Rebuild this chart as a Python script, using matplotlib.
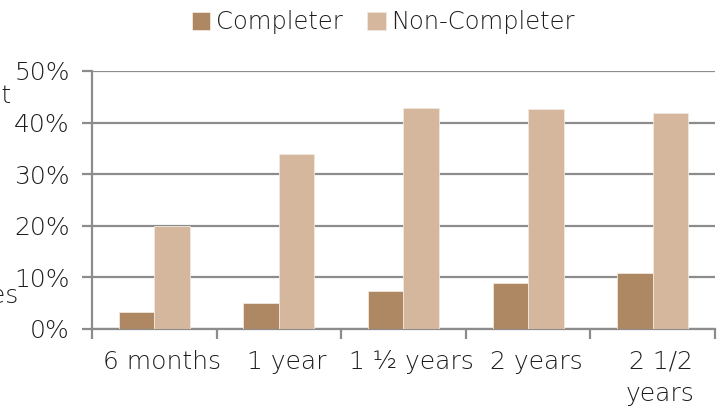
import numpy as np
import matplotlib.pyplot as plt
import matplotlib.transforms as mtransforms
from matplotlib.ticker import PercentFormatter, FixedLocator

# dados
periodos = ['6 months', '1 year', '1 ½ years', '2 years', '2 1/2\nyears']
completer = [3.3, 5.1, 7.4, 8.8, 10.8]
non_completer = [20.0, 34.0, 42.8, 42.6, 41.9]

cor_completer = '#AE8862'
cor_non = '#D4B79D'
cinza = '#8C8C8C'
cor_texto = '#1E1E1E'

plt.rcParams['font.family'] = ['DejaVu Sans']
plt.rcParams['font.weight'] = 'light'
tam = 18

fig = plt.figure(figsize=(7.25, 4.08), dpi=100)
ax = fig.add_axes([0.127, 0.194, 0.859, 0.632])

x = np.arange(len(periodos))
largura = 0.285
ax.bar(x - largura / 2, completer, largura, color=cor_completer, label='Completer',
       edgecolor='#F2E8DE', linewidth=0.6, zorder=3)
ax.bar(x + largura / 2, non_completer, largura, color=cor_non, label='Non-Completer',
       edgecolor='#F2E8DE', linewidth=0.6, zorder=3)

ax.set_xlim(-0.5, len(periodos) - 0.5)
ax.set_ylim(0, 50)
ax.set_yticks(np.arange(0, 51, 10))
ax.yaxis.set_major_formatter(PercentFormatter(decimals=0))
ax.yaxis.grid(True, color=cinza, linewidth=1.6, zorder=0)

ax.set_xticks(x)
ax.set_xticklabels(periodos, fontsize=tam, color=cor_texto, linespacing=1.45)
ax.xaxis.set_minor_locator(FixedLocator(np.arange(-0.5, len(periodos), 1)))
ax.tick_params(axis='x', which='major', length=0, pad=15)
ax.tick_params(axis='x', which='minor', length=7, width=1.6, color=cinza)
ax.tick_params(axis='y', length=7, width=1.6, color=cinza, labelsize=tam,
               labelcolor=cor_texto, pad=9)

# rótulos do eixo x um pouco deslocados para a direita, como no original
desloc = mtransforms.ScaledTranslation(8 / 100, 0, fig.dpi_scale_trans)
for rotulo in ax.get_xticklabels():
    rotulo.set_transform(rotulo.get_transform() + desloc)

for lado in ['top', 'right']:
    ax.spines[lado].set_visible(False)
for lado in ['left', 'bottom']:
    ax.spines[lado].set_color(cinza)
    ax.spines[lado].set_linewidth(1.6)

# rótulo do eixo cortado na borda esquerda
fig.text(0.016, 0.765, 'Percent', ha='right', va='center', fontsize=tam, color=cor_texto)
fig.text(0.026, 0.275, 'Degrees', ha='right', va='center', fontsize=tam, color=cor_texto)

ax.legend(loc='upper center', bbox_to_anchor=(0.468, 1.32), ncol=2, frameon=False,
          fontsize=17.5, handlelength=0.75, handleheight=0.75, handletextpad=0.25,
          columnspacing=1.0, labelcolor=cor_texto)

plt.savefig('out.png', dpi=100)
plt.close()
